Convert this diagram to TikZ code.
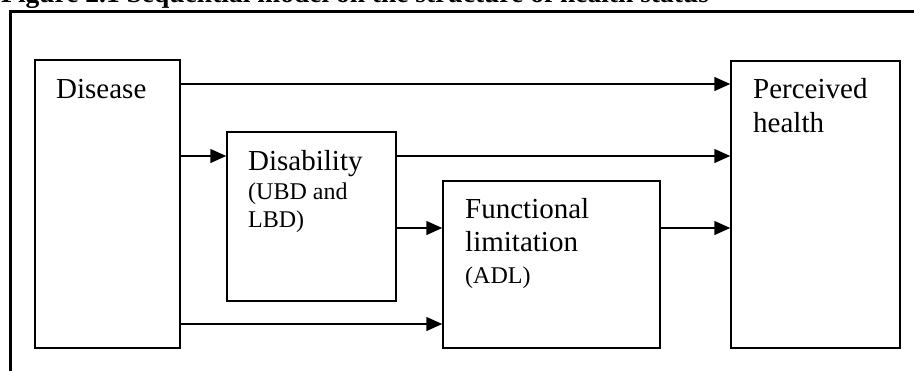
\documentclass[tikz,border=0pt]{standalone}
\usepackage{fontspec}
\setmainfont{Liberation Serif}
\usetikzlibrary{arrows.meta}
\tikzset{
  box/.style={draw, line width=1.5pt, rectangle, inner sep=0pt},
  big/.style={anchor=base west, inner sep=0pt, font=\fontsize{29}{34}\selectfont},
  small/.style={anchor=base west, inner sep=0pt, font=\fontsize{24}{28}\selectfont},
  arr/.style={line width=1.5pt, -{Triangle[length=16pt,width=14pt]}},
  frame/.style={line width=3pt}
}
\begin{document}
\begin{tikzpicture}[x=1pt,y=-1pt]
\useasboundingbox (0,0) rectangle (914,370);
\clip (0,0) rectangle (914,370);
% title (cut off at top)
\node[anchor=base west, inner sep=0pt, font=\bfseries\fontsize{27.5}{32}\selectfont] (title) at (1,2) {Figure 2.1 Sequential model on the structure of health status};
% frame
\coordinate (ftl) at (10,11);
\coordinate (ftr) at (914,11);
\coordinate (fbl) at (10,372);
\draw[frame] (fbl) -- (ftl) -- (ftr);
% boxes
\node[box, minimum width=145pt, minimum height=288pt] (disease) at (107.5,204) {};
\node[box, minimum width=169pt, minimum height=169pt] (disab) at (311.5,216.5) {};
\node[box, minimum width=217pt, minimum height=167pt] (func) at (551.5,264.5) {};
\node[box, minimum width=169pt, minimum height=287pt] (perc) at (815.5,204.5) {};
% texts
\node[big] (t1) at (56,98) {Disease};
\node[big] (t2) at (753,98) {Perceived};
\node[big] (t3) at (753,132) {health};
\node[big] (t4) at (248,170) {Disability};
\node[small] (t5) at (248,199) {(UBD and};
\node[small] (t6) at (248,227) {LBD)};
\node[big] (t7) at (465,218) {Functional};
\node[big] (t8) at (465,251) {limitation};
\node[small] (t9) at (465,283) {(ADL)};
% arrow levels
\coordinate (y1) at (0,84);
\coordinate (y2) at (0,156);
\coordinate (y3) at (0,228);
\coordinate (y4) at (0,324);
\draw[arr] (disease.east |- y1) -- (perc.west |- y1);
\draw[arr] (disease.east |- y2) -- (disab.west |- y2);
\draw[arr] (disab.east |- y2) -- (perc.west |- y2);
\draw[arr] (disab.east |- y3) -- (func.west |- y3);
\draw[arr] (disease.east |- y4) -- (func.west |- y4);
\draw[arr] (func.east |- y3) -- (perc.west |- y3);
\end{tikzpicture}
\end{document}
